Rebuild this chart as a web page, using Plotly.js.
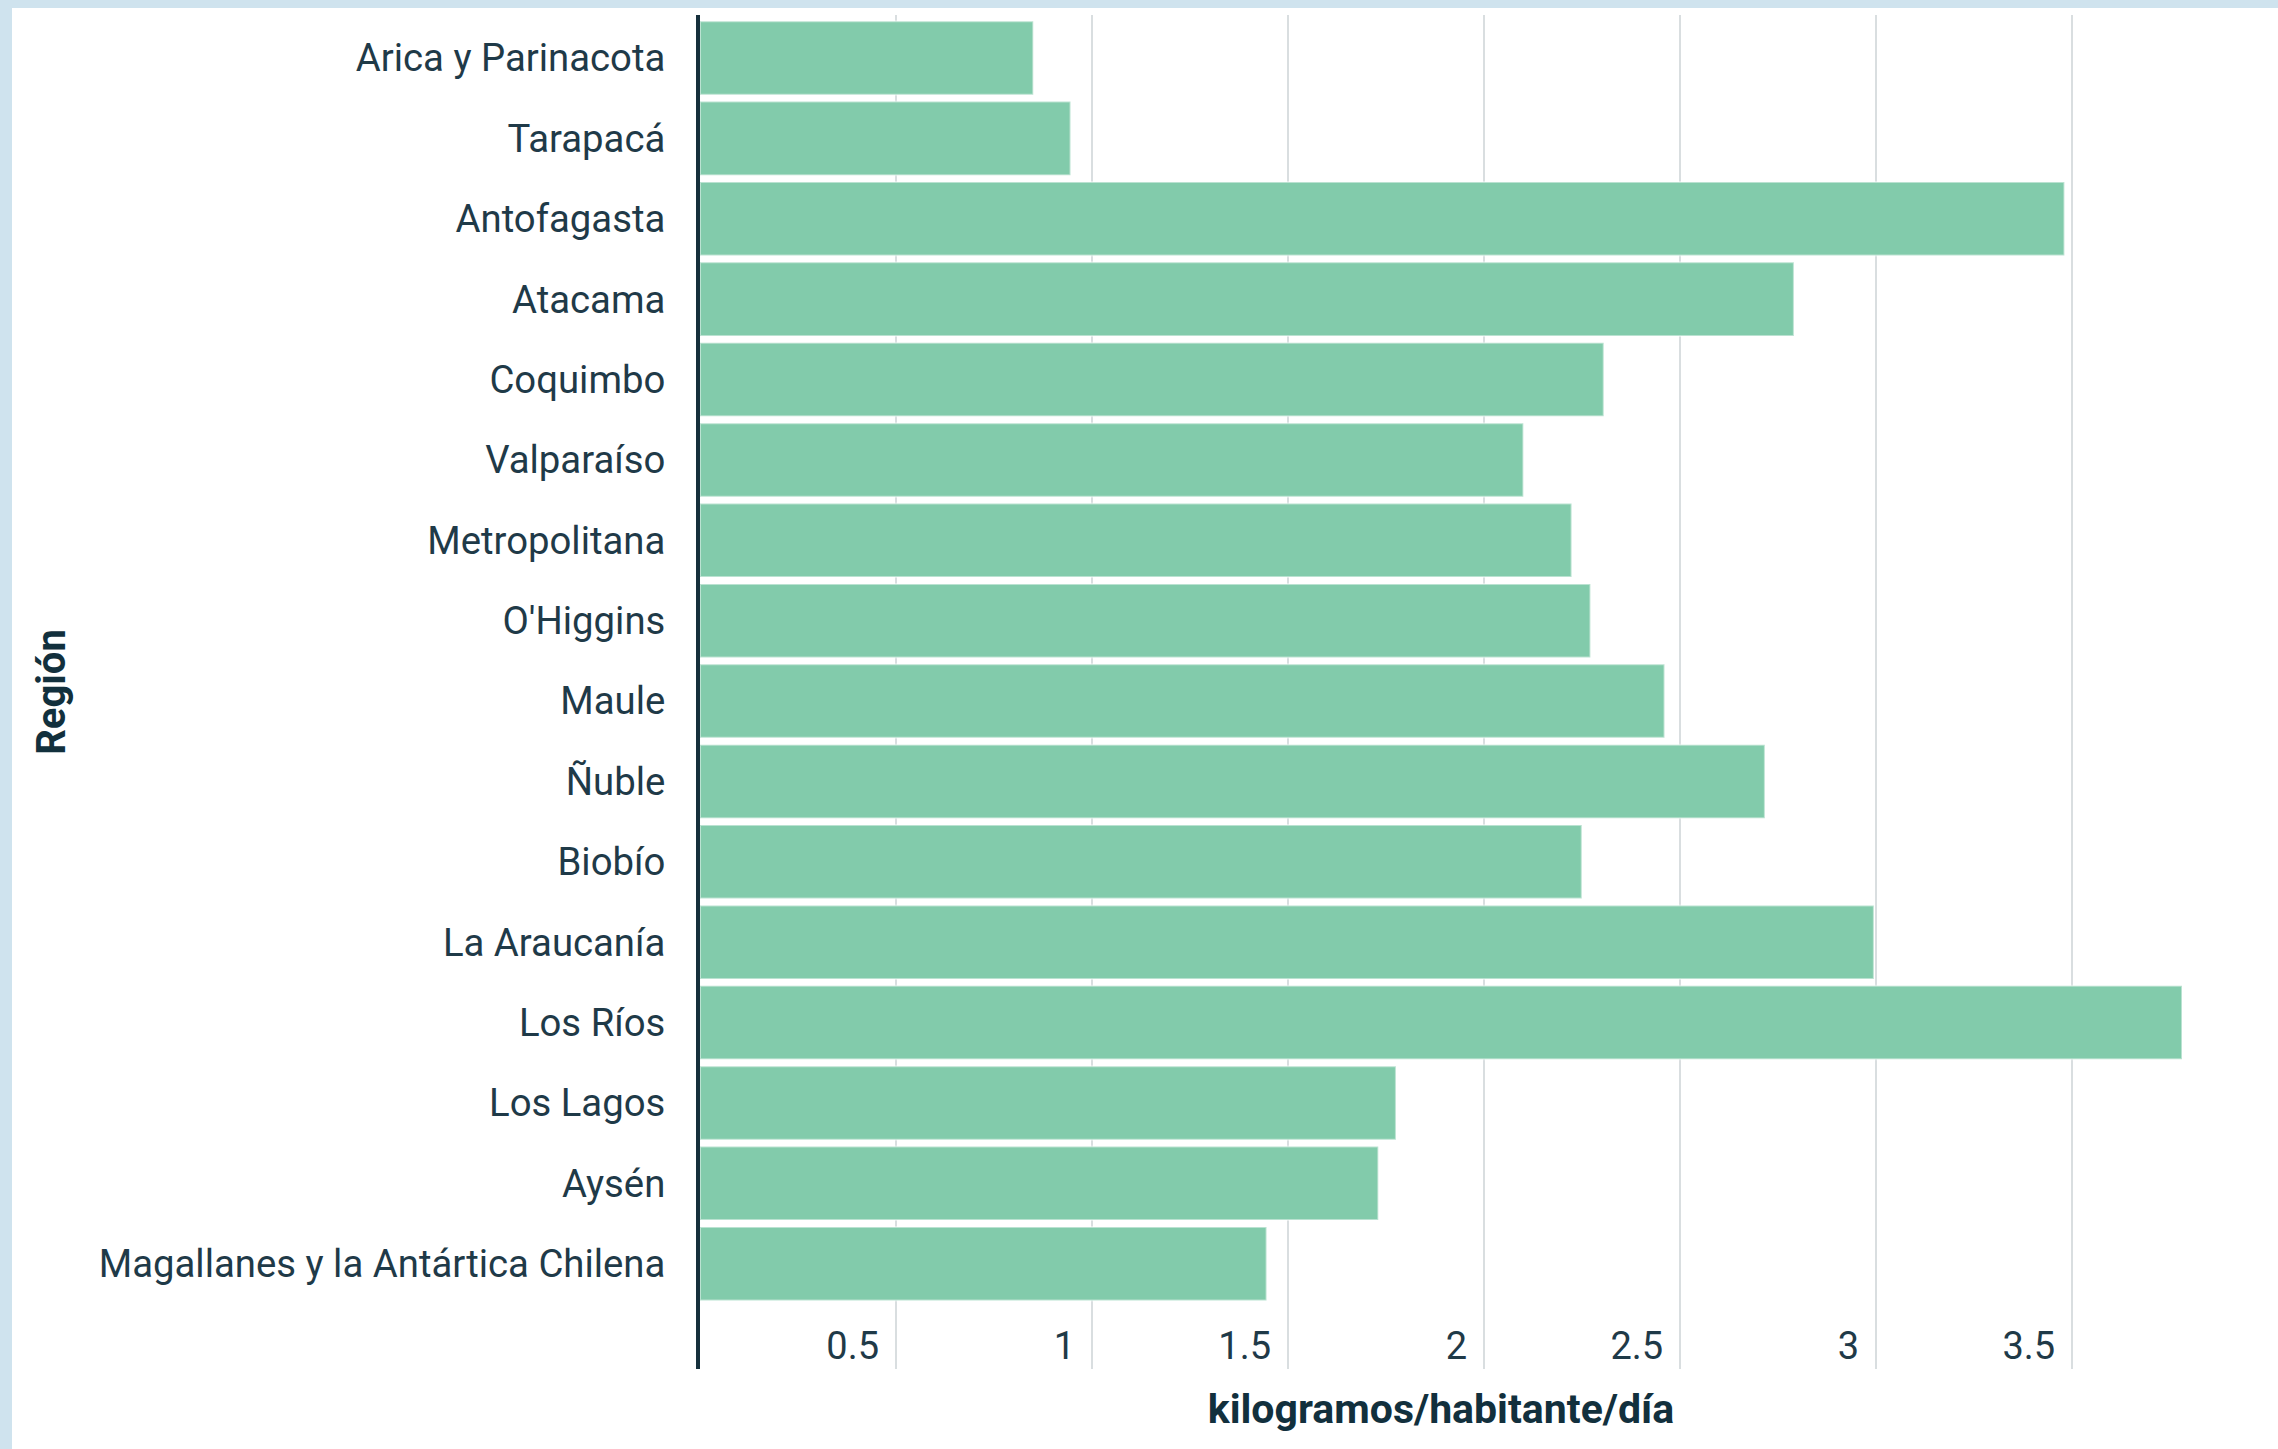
<!DOCTYPE html>
<html>
<head>
<meta charset="utf-8">
<script src="https://cdn.plot.ly/plotly-3.0.1.min.js"></script>
<style>
  html, body { margin: 0; padding: 0; width: 2278px; height: 1449px; background: #cfe3ee; overflow: hidden; }
  #chart { position: absolute; left: 12px; top: 8px; width: 2266px; height: 1441px; background: #ffffff; }
</style>
</head>
<body>
<div id="chart"></div>
<script>
// Data
const regiones = [
  "Arica y Parinacota", "Tarapacá", "Antofagasta", "Atacama", "Coquimbo",
  "Valparaíso", "Metropolitana", "O'Higgins", "Maule", "Ñuble", "Biobío",
  "La Araucanía", "Los Ríos", "Los Lagos", "Aysén", "Magallanes y la Antártica Chilena"
];
const kgHabDia = [
  0.85, 0.945, 3.48, 2.79, 2.305,
  2.10, 2.223, 2.271, 2.46, 2.716, 2.249,
  2.994, 3.78, 1.775, 1.73, 1.445
];
const xTickVals = [0.5, 1, 1.5, 2, 2.5, 3, 3.5];
const xTickText = ["0.5", "1", "1.5", "2", "2.5", "3", "3.5"];
const xTitle = "kilogramos/habitante/día";
const yTitle = "Región";

const labelColor = "#1f3a48";
const titleColor = "#12303d";

const trace = {
  type: "bar",
  orientation: "h",
  x: kgHabDia,
  y: regiones,
  marker: {
    color: "#82cbab",
    line: { color: "rgba(255,255,255,0.45)", width: 2 }
  },
  hoverinfo: "x+y"
};

const layout = {
  width: 2266,
  height: 1441,
  paper_bgcolor: "#ffffff",
  plot_bgcolor: "#ffffff",
  margin: { l: 688, r: 96, t: 7, b: 80, pad: 0 },
  bargap: 0.085,
  showlegend: false,
  font: { family: "Roboto, sans-serif", size: 38, color: labelColor },
  xaxis: {
    range: [0, 3.78],
    tickvals: xTickVals,
    ticktext: xTickText,
    ticks: "",
    showgrid: true,
    gridcolor: "#d9dee0",
    gridwidth: 2.5,
    zeroline: false,
    showline: false,
    ticklabelposition: "inside left",
    ticklabelshift: -17,
    ticklabelstandoff: -4,
    tickfont: { family: "Roboto, sans-serif", size: 38, color: labelColor },
    automargin: false,
    title: {
      text: xTitle,
      font: { family: "Roboto, sans-serif", size: 41, color: titleColor, weight: 700 },
      standoff: 26
    }
  },
  yaxis: {
    type: "category",
    categoryorder: "array",
    categoryarray: regiones,
    range: [16.31, -0.535],
    ticks: "",
    showgrid: false,
    zeroline: false,
    showline: true,
    linecolor: "#16303c",
    linewidth: 4,
    ticklabelstandoff: 23,
    tickfont: { family: "Roboto, sans-serif", size: 38.3, color: labelColor },
    automargin: false,
    title: {
      text: yTitle,
      font: { family: "Roboto, sans-serif", size: 40, color: titleColor, weight: 700 },
      standoff: 22
    }
  }
};

Plotly.newPlot("chart", [trace], layout, { displayModeBar: false, staticPlot: true });
</script>
</body>
</html>
